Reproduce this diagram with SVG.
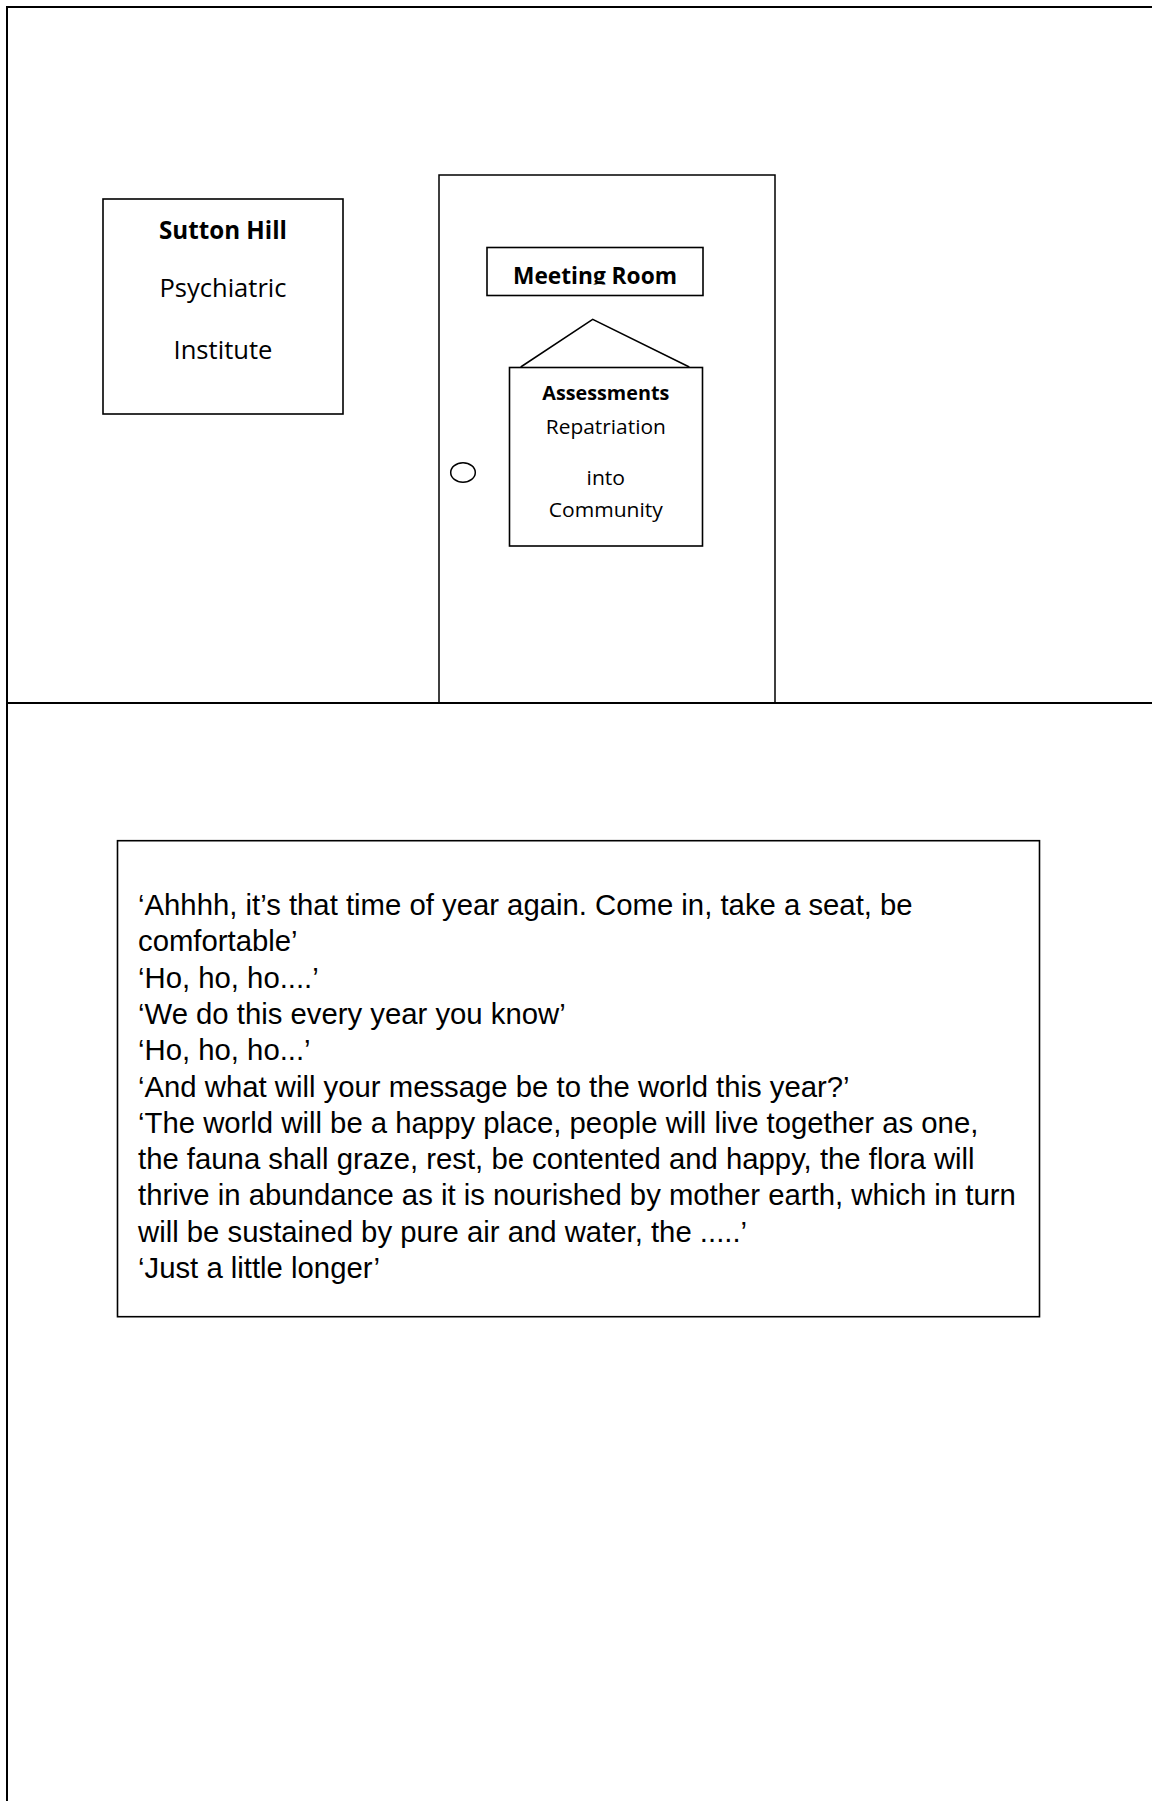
<svg xmlns="http://www.w3.org/2000/svg" width="1152" height="1801" viewBox="0 0 1152 1801">
  <style>
    .frame { fill: none; stroke: #000; stroke-width: 2; }
    .thin { fill: none; stroke: #000; stroke-width: 1.5; }
    .box { fill: #fff; stroke: #000; stroke-width: 1.6; }
    .sign { font-family: "Open Sans", "Noto Sans", sans-serif; fill: #000; text-anchor: middle; }
    .b { font-weight: bold; }
    .talk { font-family: "Liberation Sans", Arial, sans-serif; font-size: 29.3px; fill: #000; }
  </style>
  <defs>
    <clipPath id="signClip">
      <rect x="487" y="240" width="216" height="44.5"/>
    </clipPath>
  </defs>
  <rect width="1152" height="1801" fill="#fff"/>

  <!-- page frame: top and left edges, floor line -->
  <g id="frame">
    <path class="frame" d="M7,1801 V7 H1152"/>
    <line class="frame" x1="7" y1="703" x2="1152" y2="703"/>
  </g>

  <!-- building name plate -->
  <g id="plate">
    <rect class="box" x="103" y="199" width="240" height="215"/>
    <text class="sign b" x="223" y="238.5" font-size="25.5" textLength="128" lengthAdjust="spacingAndGlyphs">Sutton Hill</text>
    <text class="sign" x="223" y="297" font-size="25.5" textLength="127" lengthAdjust="spacingAndGlyphs">Psychiatric</text>
    <text class="sign" x="223" y="358.5" font-size="25.5" textLength="99" lengthAdjust="spacingAndGlyphs">Institute</text>
  </g>

  <!-- door with handle -->
  <g id="door">
    <path class="thin" d="M439,703 V175 H775 V703"/>
    <ellipse class="thin" cx="463" cy="472.5" rx="12.3" ry="9.7"/>
  </g>

  <!-- room sign, text cut off at the frame bottom -->
  <g id="room-sign">
    <rect class="box" x="487" y="247.5" width="216" height="48"/>
    <text class="sign b" x="595" y="283.5" font-size="23.5" textLength="164" lengthAdjust="spacingAndGlyphs" clip-path="url(#signClip)">Meeting Room</text>
  </g>

  <!-- hanging cord of the notice -->
  <g id="connectors">
    <path class="thin" d="M520.7,367 L592.7,319.3 L689.3,367"/>
  </g>

  <!-- notice hung on the door -->
  <g id="notice">
    <rect class="box" x="509.5" y="367.5" width="193" height="178.5"/>
    <text class="sign b" x="605.8" y="400" font-size="20" textLength="127" lengthAdjust="spacingAndGlyphs">Assessments</text>
    <text class="sign" x="605.8" y="433.5" font-size="20.5" textLength="120" lengthAdjust="spacingAndGlyphs">Repatriation</text>
    <text class="sign" x="605.8" y="485" font-size="20.5" textLength="38.5" lengthAdjust="spacingAndGlyphs">into</text>
    <text class="sign" x="605.8" y="516.7" font-size="20.5" textLength="114" lengthAdjust="spacingAndGlyphs">Community</text>
  </g>

  <!-- dialogue box -->
  <g id="dialogue">
    <rect class="box" x="117.5" y="840.7" width="922" height="476"/>
    <text class="talk" x="138" y="915">‘Ahhhh, it’s that time of year again. Come in, take a seat, be</text>
    <text class="talk" x="138" y="951.3">comfortable’</text>
    <text class="talk" x="138" y="987.6">‘Ho, ho, ho....’</text>
    <text class="talk" x="138" y="1023.9">‘We do this every year you know’</text>
    <text class="talk" x="138" y="1060.2">‘Ho, ho, ho...’</text>
    <text class="talk" x="138" y="1096.5">‘And what will your message be to the world this year?’</text>
    <text class="talk" x="138" y="1132.8">‘The world will be a happy place, people will live together as one,</text>
    <text class="talk" x="138" y="1169.1">the fauna shall graze, rest, be contented and happy, the flora will</text>
    <text class="talk" x="138" y="1205.4">thrive in abundance as it is nourished by mother earth, which in turn</text>
    <text class="talk" x="138" y="1241.7">will be sustained by pure air and water, the .....’</text>
    <text class="talk" x="138" y="1278">‘Just a little longer’</text>
  </g>
</svg>
